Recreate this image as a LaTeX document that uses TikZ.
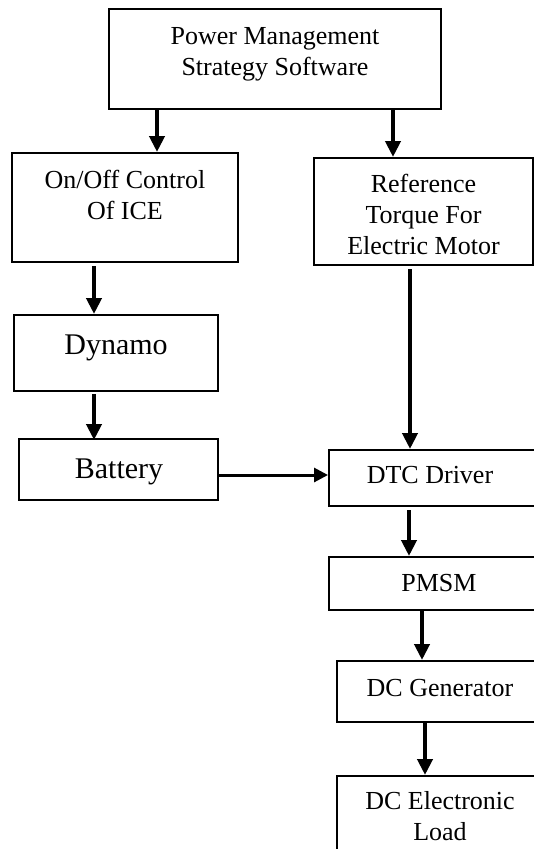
\documentclass[tikz,border=0pt]{standalone}
\usepackage{fontspec}
\setmainfont{Liberation Serif}
\usetikzlibrary{arrows.meta,calc}

\tikzset{
  box/.style={draw, line width=2pt, inner sep=0pt},
  txt/.style={font=\fontsize{26}{31}\selectfont, align=center, inner sep=0pt},
  bigtxt/.style={font=\fontsize{30}{36}\selectfont, inner sep=0pt},
  arr/.style={line width=4.5pt, -{Triangle[length=16pt,width=15pt]}},
  harr/.style={line width=3pt, -{Triangle[length=14pt,width=14pt]}}
}

\begin{document}
\begin{tikzpicture}[x=1pt,y=-1pt]
      \useasboundingbox (0,0) rectangle (534,849);
      \clip (0,0) rectangle (534,849);
      % boxes
      \node[box, minimum width=332pt, minimum height=100pt] (pms) at (275,59) {};
      \node[box, minimum width=226pt, minimum height=109pt] (onoff) at (125,207.5) {};
      \node[box, minimum width=219pt, minimum height=107pt] (ref) at (423.5,211.5) {};
      \node[box, minimum width=204pt, minimum height=76pt] (dynamo) at (116,353) {};
      \node[box, minimum width=199pt, minimum height=61pt] (battery) at (118.5,469.5) {};
      \node[box, minimum width=216pt, minimum height=56pt] (dtc) at (437,478) {};
      \node[box, minimum width=216pt, minimum height=53pt] (pmsm) at (437,583.5) {};
      \node[box, minimum width=208pt, minimum height=61pt] (dcgen) at (441,691.5) {};
      \node[box, minimum width=208pt, minimum height=124pt] (dcload) at (441,838) {};
      % texts
      \node[txt] (pmstxt) at (275,53.8) {Power Management\\Strategy Software};
      \node[txt] (onofftxt) at (125,195) {On/Off Control\\Of ICE};
      \node[txt] (reftxt) at (423.5,214.5) {Reference\\Torque For\\Electric Motor};
      \node[bigtxt] (dynamotxt) at (116,348) {Dynamo};
      \node[bigtxt] (batterytxt) at (119,472) {Battery};
      \node[txt] (dtctxt) at (430,475.5) {DTC Driver};
      \node[txt] (pmsmtxt) at (439,583.5) {PMSM};
      \node[txt] (dcgentxt) at (440,688.5) {DC Generator};
      \node[txt] (dcloadtxt) at (440,816) {DC Electronic\\Load};
      % arrows
      \draw[arr] ($(pms.south)+(-118,0)$) -- ($(onoff.north)+(32,0)$);
      \draw[arr] ($(pms.south)+(118,0)$) -- ($(ref.north)+(-30.5,0)$);
      \draw[arr] ($(onoff.south)+(-31,3)$) -- ($(dynamo.north)+(-22,0)$);
      \draw[arr] ($(dynamo.south)+(-22,2)$) -- ($(battery.north)+(-24.5,2)$);
      \draw[harr] ($(battery.east)+(0,5.5)$) -- ($(dtc.west)+(0,-3)$);
      \draw[arr] ($(ref.south)+(-13.5,3)$) -- ($(dtc.north)+(-27,0)$);
      \draw[arr] ($(dtc.south)+(-28,3)$) -- ($(pmsm.north)+(-28,0)$);
      \draw[arr] ($(pmsm.south)+(-15,0)$) -- ($(dcgen.north)+(-19,0)$);
      \draw[arr] ($(dcgen.south)+(-16,0)$) -- ($(dcload.north)+(-16,0)$);
\end{tikzpicture}
\end{document}
